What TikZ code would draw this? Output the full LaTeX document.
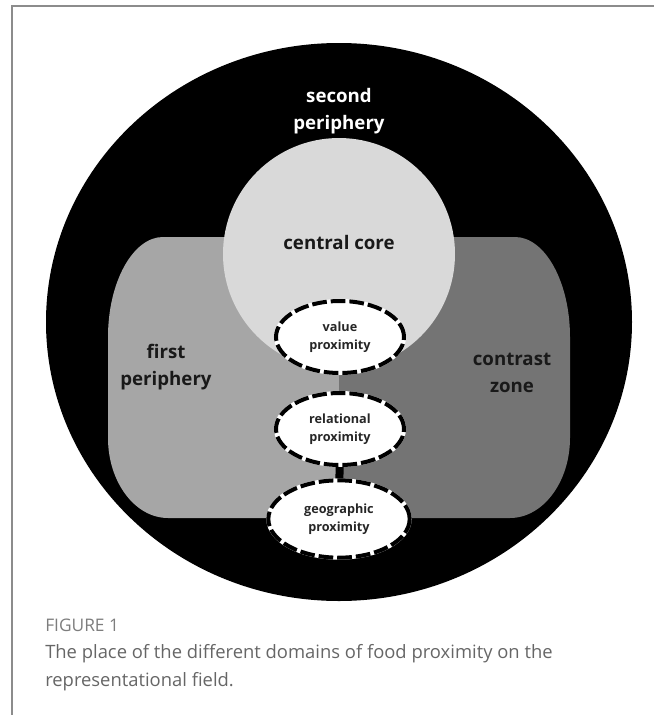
\documentclass[tikz,border=0pt]{standalone}
\usepackage{fontspec}
\setmainfont{Open Sans}
\usetikzlibrary{shapes.geometric}
\definecolor{firstgray}{HTML}{A6A6A6}
\definecolor{contrastgray}{HTML}{747474}
\definecolor{coregray}{HTML}{D9D9D9}
\definecolor{framegray}{HTML}{8C8C8C}
\definecolor{captiongray}{HTML}{666666}

\begin{document}
\begin{tikzpicture}[x=0.75pt,y=-0.75pt,
        zone/.style={font=\bfseries\fontsize{14}{20}\selectfont,align=center,text=black!90},
        prox/.style={ellipse,fill=white,draw=white,line width=3pt,inner sep=0pt,
                align=center,text=black!85,font=\bfseries\fontsize{9.5}{13.5}\selectfont,
                postaction={draw=black,dash pattern=on 11pt off 3pt}}]
        \useasboundingbox (0,0) rectangle (654,715);
        \draw[framegray,line width=1.5pt] (12,715) -- (12,6) -- (654,6);
        \fill[black] (339,322) ellipse [x radius=293,y radius=279];
        \fill[firstgray] (339,237) -- (163,237) .. controls (133,237) and (108,282) .. (108,337)
                -- (108,438) .. controls (108,482) and (135,518) .. (168,518) -- (339,518) -- cycle;
        \fill[contrastgray] (339,237) -- (515,237) .. controls (545,237) and (570,282) .. (570,337)
                -- (570,438) .. controls (570,482) and (543,518) .. (510,518) -- (339,518) -- cycle;
        \fill[coregray] (339,254) circle [radius=116];
        \node[zone,text=white] (second) at (339,111) {second\\periphery};
        \node[zone] (core) at (339,242) {central core};
        \node[zone] (first) at (166,367) {first\\periphery};
        \node[zone] (contrast) at (512,373) {contrast\\zone};
        \node[prox,minimum width=96pt,minimum height=54pt] (value) at (340,337) {value\\proximity};
        \node[prox,minimum width=96pt,minimum height=54pt] (relational) at (340,429) {relational\\proximity};
        \node[prox,minimum width=106pt,minimum height=58pt] (geographic) at (339,519) {geographic\\proximity};
        \draw[line width=6pt] (relational) -- (geographic);
        \node[anchor=base west,text=captiongray!85,font=\fontsize{13}{15}\selectfont,inner sep=0pt] (figlabel) at (45,631) {FIGURE 1};
        \node[anchor=north west,text=captiongray,font=\fontsize{13.8}{21}\selectfont,align=left,inner sep=0pt] (caption) at (45,644)
                {The place of the different domains of food proximity on the\\representational field.};
\end{tikzpicture}
\end{document}
